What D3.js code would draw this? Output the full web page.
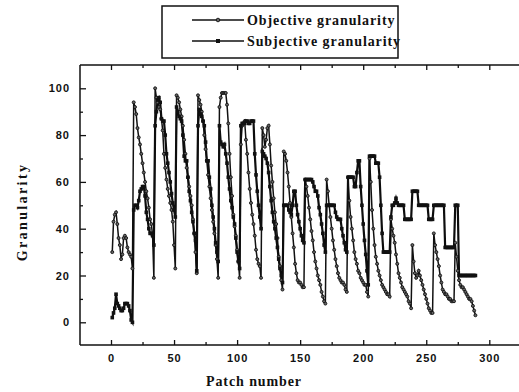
<!DOCTYPE html>
<html><head><meta charset="utf-8">
<script src="https://cdn.jsdelivr.net/npm/d3@7"></script>
<style>
html,body{margin:0;padding:0;background:#fff;}
svg{display:block;}
.tick text{font-family:"Liberation Sans",Arial,sans-serif;font-weight:bold;font-size:11px;letter-spacing:1px;fill:#111;}
</style></head>
<body>
<script>
// ---- data ----
const objective = [
  30,43,46,47,42,36,33,27,29,36,37,36,32,30,29,28,23,
  94,92,89,83,79,76,72,68,64,60,56,53,49,44,42,37,19,
  100,96,94,92,91,87,82,72,66,61,57,54,51,48,43,33,23,
  97,96,94,91,88,84,78,72,66,62,58,54,50,44,38,30,21,
  97,95,93,90,86,80,74,69,63,58,53,48,43,38,33,27,19,
  92,96,98,98,98,98,93,85,72,62,54,46,41,37,31,26,19,
  76,84,85,86,78,72,64,57,51,46,42,37,31,27,25,24,19,
  83,80,75,78,83,84,76,67,60,53,47,42,36,28,24,18,14,
  73,72,69,64,58,51,45,38,32,25,21,18,17,17,16,15,15,
  61,58,54,49,44,39,35,30,26,23,20,18,16,13,11,9,8,
  61,56,50,45,40,35,31,27,24,21,19,18,17,17,16,14,13,
  62,52,45,40,35,30,27,25,22,21,19,18,17,16,16,13,11,
  70,60,48,40,33,28,25,22,20,18,16,15,14,13,12,12,11,
  44,40,37,34,29,25,21,19,17,15,14,13,12,11,9,8,6,
  33,26,21,19,20,22,20,18,16,14,12,10,8,6,5,4,4,
  38,33,30,27,24,20,17,14,13,12,12,11,10,10,9,9,9,
  34,28,22,18,16,15,15,14,13,12,11,10,10,9,7,5,3
];
const subjective = [
  2,4,6,12,8,7,6,5,5,6,8,8,8,7,5,1,0,
  48,50,50,49,52,56,57,58,58,54,47,44,40,38,38,37,33,
  84,90,95,96,94,87,86,86,80,72,68,64,60,55,51,48,45,
  92,90,88,87,86,80,71,69,69,62,56,52,47,43,38,35,22,
  84,91,89,88,86,84,77,69,69,62,57,50,45,40,34,30,26,
  84,77,76,75,76,72,68,62,57,52,49,45,42,36,30,26,23,
  84,85,85,85,86,86,85,85,86,86,86,72,63,56,50,45,40,
  73,72,71,70,68,64,58,52,47,43,40,36,32,27,23,20,17,
  50,50,50,50,48,47,46,50,56,56,50,46,43,40,37,35,34,
  61,61,61,61,61,61,60,58,56,56,54,49,46,42,38,33,30,
  50,50,50,50,50,50,50,47,45,44,44,44,40,37,34,31,30,
  62,62,62,62,62,58,58,64,69,69,58,50,42,35,29,22,16,
  71,71,71,71,71,68,68,68,62,50,38,30,30,30,30,30,30,
  45,50,50,51,53,51,50,50,50,50,50,44,44,44,44,44,44,
  56,56,56,56,56,50,50,50,50,50,50,50,50,44,44,44,44,
  50,50,50,50,50,50,50,50,50,32,32,32,32,32,32,32,32,
  50,50,50,20,20,20,20,20,20,20,20,20,20,20,20,20,20
];
const patches = objective.map((_, i) => i + 1);
const xMajorTicks = [0, 50, 100, 150, 200, 250, 300];
const xMinorTicks = [25, 75, 125, 175, 225, 275];
const yMajorTicks = [0, 20, 40, 60, 80, 100];
const yMinorTicks = [10, 30, 50, 70, 90];
const legendLabels = ["Objective granularity", "Subjective granularity"];
const xTitle = "Patch number";
const yTitle = "Granularity";

// ---- layout ----
const W = 519, H = 392;
const frame = {left: 80, right: 522, top: 65, bottom: 345};
const x = d3.scaleLinear().domain([0, 300]).range([111, 489.3]);
const y = d3.scaleLinear().domain([0, 100]).range([322.3, 88.3]);

const svg = d3.select("body").append("svg").attr("width", W).attr("height", H);

const fg = svg.append("g").attr("stroke", "#111").attr("stroke-width", 1.5).attr("fill", "none");
fg.append("line").attr("x1", frame.left).attr("x2", frame.right).attr("y1", frame.bottom).attr("y2", frame.bottom);
fg.append("line").attr("x1", frame.left).attr("x2", frame.right).attr("y1", frame.top).attr("y2", frame.top);
fg.append("line").attr("x1", frame.left).attr("x2", frame.left).attr("y1", frame.top).attr("y2", frame.bottom);

function styleAxis(g) {
  g.select(".domain").remove();
  g.selectAll(".tick line").attr("stroke", "#111").attr("stroke-width", 1.3);
}
svg.append("g").attr("transform", `translate(0,${frame.bottom})`)
  .call(d3.axisBottom(x).tickValues(xMajorTicks).tickSize(-5).tickPadding(9).tickFormat(d3.format("d")))
  .call(styleAxis);
svg.append("g").attr("transform", `translate(0,${frame.bottom})`)
  .call(d3.axisBottom(x).tickValues(xMinorTicks).tickSize(-3).tickFormat(""))
  .call(styleAxis);
svg.append("g").attr("transform", `translate(0,${frame.top})`)
  .call(d3.axisTop(x).tickValues(xMajorTicks).tickSize(-5).tickFormat(""))
  .call(styleAxis);
svg.append("g").attr("transform", `translate(0,${frame.top})`)
  .call(d3.axisTop(x).tickValues(xMinorTicks).tickSize(-3).tickFormat(""))
  .call(styleAxis);
svg.append("g").attr("transform", `translate(${frame.left},0)`)
  .call(d3.axisLeft(y).tickValues(yMajorTicks).tickSize(-6).tickPadding(10).tickFormat(d3.format("d")))
  .call(styleAxis);
svg.append("g").attr("transform", `translate(${frame.left},0)`)
  .call(d3.axisLeft(y).tickValues(yMinorTicks).tickSize(-3).tickFormat(""))
  .call(styleAxis);

// titles
svg.append("text").attr("x", 254).attr("y", 386).attr("text-anchor", "middle")
  .attr("font-family", "'Liberation Serif','Times New Roman',serif").attr("font-weight", "bold")
  .attr("font-size", 14).attr("letter-spacing", 0.9).attr("fill", "#111").text(xTitle);
svg.append("text").attr("transform", "translate(27,212) rotate(-90)").attr("text-anchor", "middle")
  .attr("font-family", "'Liberation Serif','Times New Roman',serif").attr("font-weight", "bold")
  .attr("font-size", 14).attr("letter-spacing", 2.4).attr("fill", "#111").text(yTitle);

// series
const lineGen = vals => d3.line().x((d, i) => x(patches[i])).y(d => y(d))(vals);
const plot = svg.append("g");
plot.append("path").attr("d", lineGen(objective)).attr("fill", "none").attr("stroke", "#111").attr("stroke-width", 1.5);
plot.append("path").attr("d", lineGen(subjective)).attr("fill", "none").attr("stroke", "#0d0d0d").attr("stroke-width", 2.2);
plot.append("g").selectAll("circle").data(objective).join("circle")
  .attr("cx", (d, i) => x(patches[i])).attr("cy", d => y(d)).attr("r", 1.5)
  .attr("fill", "#666").attr("stroke", "#111").attr("stroke-width", 0.9);
plot.append("g").selectAll("rect").data(subjective).join("rect")
  .attr("x", (d, i) => x(patches[i]) - 1.8).attr("y", d => y(d) - 1.8).attr("width", 3.6).attr("height", 3.6)
  .attr("fill", "#111");

// legend
const lg = svg.append("g");
lg.append("rect").attr("x", 162).attr("y", 6).attr("width", 236).attr("height", 52)
  .attr("fill", "#fff").attr("stroke", "#111").attr("stroke-width", 1.5);
legendLabels.forEach((lab, k) => {
  const yy = 20 + k * 21;
  lg.append("line").attr("x1", 192).attr("x2", 244).attr("y1", yy).attr("y2", yy)
    .attr("stroke", "#111").attr("stroke-width", 1.6);
  if (k === 0) {
    lg.append("circle").attr("cx", 218).attr("cy", yy).attr("r", 1.8)
      .attr("fill", "#666").attr("stroke", "#111").attr("stroke-width", 0.9);
  } else {
    lg.append("rect").attr("x", 216).attr("y", yy - 2).attr("width", 4).attr("height", 4).attr("fill", "#111");
  }
  lg.append("text").attr("x", 247).attr("y", yy + 5)
    .attr("font-family", "'Liberation Serif','Times New Roman',serif").attr("font-weight", "bold")
    .attr("font-size", 14).attr("letter-spacing", 0.9).attr("fill", "#111").text(lab);
});
</script>
</body></html>
